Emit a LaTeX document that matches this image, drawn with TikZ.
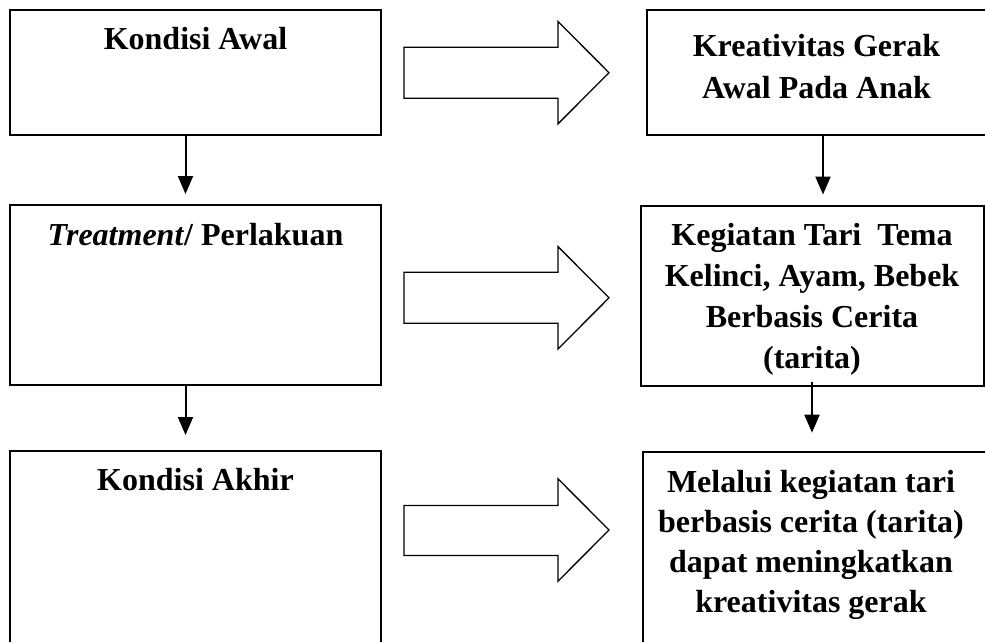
\documentclass[tikz,border=0pt]{standalone}
\usepackage{fontspec}
\setmainfont{Liberation Serif}
\usetikzlibrary{arrows.meta}
\begin{document}
\begin{tikzpicture}[x=1pt,y=-1pt,
  box/.style={draw, line width=2pt, inner sep=0pt, outer sep=0pt},
  lbl/.style={inner sep=0pt, anchor=base, font=\fontsize{32}{41}\selectfont\bfseries},
  flow/.style={line width=2pt, -{Triangle[width=15pt,length=18pt]}},
  bigarrow/.style={draw, line width=1.3pt, fill=white, line join=miter}]
\useasboundingbox (0,0) rectangle (985,642);
\clip (0,0) rectangle (985,642);
% boxes
\node[box, minimum width=371pt, minimum height=125pt] (L1) at (195.5,72.5) {};
\node[box, minimum width=371pt, minimum height=180pt] (L2) at (195.5,295) {};
\node[box, minimum width=371pt, minimum height=209pt] (L3) at (195.5,555.5) {};
\node[box, minimum width=343pt, minimum height=125pt] (R1) at (818.5,72.5) {};
\node[box, minimum width=343pt, minimum height=180pt] (R2) at (812.5,295.5) {};
\node[box, minimum width=347.5pt, minimum height=208.3pt] (R3) at (816.25,555.85) {};
% texts
\node[lbl] (tL1) at (195.5,49) {Kondisi Awal};
\node[lbl] (tL2) at (195.5,245) {\textit{Treatment}/ Perlakuan};
\node[lbl] (tL3) at (195.5,490) {Kondisi Akhir};
\node[lbl] (tR1) at (816.5,57) {\begin{tabular}[t]{@{}c@{}}Kreativitas Gerak\\Awal Pada Anak\end{tabular}};
\node[lbl] (tR2) at (812,245) {\begin{tabular}[t]{@{}c@{}}Kegiatan Tari \ Tema\\Kelinci, Ayam, Bebek\\Berbasis Cerita\\(tarita)\end{tabular}};
\node[lbl, font=\fontsize{32}{40}\selectfont\bfseries] (tR3) at (811,492.7) {\begin{tabular}[t]{@{}c@{}}Melalui kegiatan tari\\berbasis cerita (tarita)\\dapat meningkatkan\\kreativitas gerak\end{tabular}};
% block arrows
\draw[bigarrow] (404,47.2) -- (558,47.2) -- (558,21.5) -- (609,72.7) -- (558,123.9) -- (558,98.2) -- (404,98.2) -- cycle;
\draw[bigarrow] (404,272.3) -- (558,272.3) -- (558,246.6) -- (609,297.8) -- (558,349) -- (558,323.3) -- (404,323.3) -- cycle;
\draw[bigarrow] (404,505.5) -- (558,505.5) -- (558,478.8) -- (609,530) -- (558,581.2) -- (558,555.5) -- (404,555.5) -- cycle;
% vertical connectors
\coordinate (xl) at (185.5,0);
\coordinate (xr1) at (823,0);
\coordinate (xr2) at (812,0);
\draw[flow, shorten >=11pt] (L1.south -| xl) -- (L2.north -| xl);
\draw[flow, shorten >=16pt] (L2.south -| xl) -- (L3.north -| xl);
\draw[flow, shorten >=11pt] (R1.south -| xr1) -- (R2.north -| xr1);
\draw[flow, shorten >=19pt, shorten <=-4pt] (R2.south -| xr2) -- (R3.north -| xr2);
\end{tikzpicture}
\end{document}
